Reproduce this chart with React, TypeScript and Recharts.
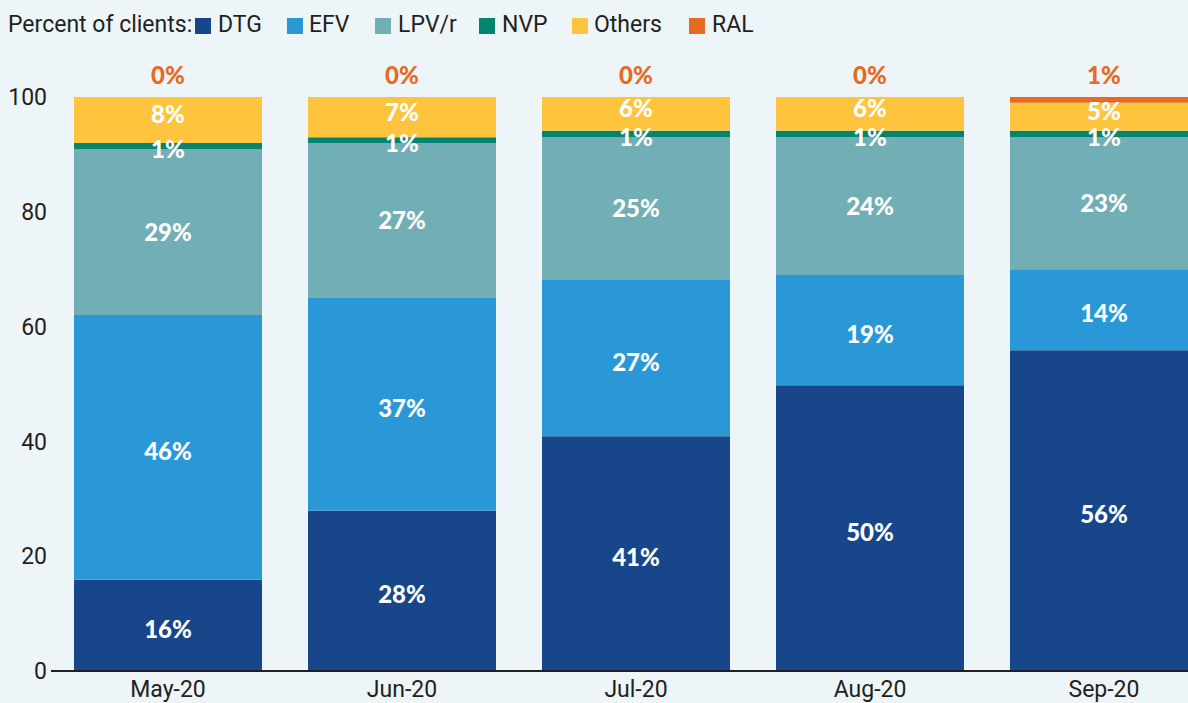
import { BarChart, Bar, XAxis, YAxis, LabelList } from 'recharts';

const months = ['May-20', 'Jun-20', 'Jul-20', 'Aug-20', 'Sep-20'];
const dtg = [15.9, 27.9, 40.9, 49.8, 55.9];
const efv = [46.1, 37.1, 27.2, 19.2, 14.1];
const lpvr = [28.9, 27.0, 24.9, 24.0, 23.0];
const nvp = [1.1, 1.0, 1.1, 1.1, 1.1];
const others = [8.0, 7.0, 5.9, 5.9, 4.9];
const ral = [0, 0, 0, 0, 1.0];
const yTicks = [0, 20, 40, 60, 80, 100];

const SERIES = [
  { key: 'DTG', color: '#17468A' },
  { key: 'EFV', color: '#2A98D6' },
  { key: 'LPV/r', color: '#72AEB5' },
  { key: 'NVP', color: '#00866F' },
  { key: 'Others', color: '#FEC43E' },
  { key: 'RAL', color: '#E66A22' },
];

// legend item x positions (square left, text left)
const LEGEND_X = [
  [195, 218],
  [287, 309],
  [375, 398],
  [479, 502],
  [572, 594],
  [689, 712],
];

// small vertical nudges for the in-bar labels
const LABEL_DY: Record<string, number> = {
  DTG: 4,
  EFV: 4,
  'LPV/r': 0,
  NVP: 3,
  Others: -5,
};

const data = months.map((m, i) => ({
  month: m,
  DTG: dtg[i],
  EFV: efv[i],
  'LPV/r': lpvr[i],
  NVP: nvp[i],
  Others: others[i],
  RAL: ral[i],
}));

const BG = '#EDF5F8';
const TEXT = '#231F20';
const AXIS_FONT = 'Roboto, "Noto Sans", sans-serif';
const LABEL_FONT = 'Lato, "Open Sans", sans-serif';
const LABEL_STYLE = { fontFamily: LABEL_FONT, fontWeight: 900, fontSize: 24 };

const pct = (v: unknown) => `${Math.round(Number(v) || 0)}%`;

function LegendRow() {
  return (
    <div style={{ position: 'absolute', left: 0, top: 0, width: 800, height: 50, fontFamily: AXIS_FONT, fontSize: 23, color: TEXT }}>
      <span style={{ position: 'absolute', left: 8, top: 11, lineHeight: '28px' }}>Percent of clients:</span>
      {SERIES.map((s, i) => (
        <span key={s.key}>
          <span style={{ position: 'absolute', left: LEGEND_X[i][0], top: 18, width: 16, height: 16, background: s.color }} />
          <span style={{ position: 'absolute', left: LEGEND_X[i][1], top: 11, lineHeight: '28px' }}>{s.key}</span>
        </span>
      ))}
    </div>
  );
}

// RAL label drawn above the top of the stack (works even when RAL is 0)
// eslint-disable-next-line @typescript-eslint/no-explicit-any
const renderRalLabel = (p: any) => {
  const vb = p.viewBox ?? p;
  const x = Number(vb.x) || 0;
  const y = Number(vb.y) || 0;
  const w = Number(vb.width) || 0;
  const h = Number(vb.height) || 0;
  const idx = Number(p.index) || 0;
  const pxPerUnit = others[idx] ? h / others[idx] : 0;
  const top = y - ral[idx] * pxPerUnit;
  return (
    <text
      key={`ral-${idx}`}
      x={x + w / 2}
      y={top - 13}
      textAnchor="middle"
      fill="#E66A22"
      style={LABEL_STYLE}
    >
      {pct(ral[idx])}
    </text>
  );
};

export default function App() {
  return (
    <div
      style={{
        position: 'absolute',
        left: 0,
        top: 0,
        width: 1188,
        height: 703,
        overflow: 'hidden',
        background: BG,
      }}
    >
      <LegendRow />
      <BarChart
        width={1221}
        height={703}
        data={data}
        margin={{ top: 97, right: 0, bottom: 0, left: 0 }}
        barCategoryGap={23}
      >
        <XAxis
          dataKey="month"
          height={32}
          tickLine={false}
          axisLine={{ stroke: TEXT, strokeWidth: 2 }}
          tick={{ fill: TEXT, fontSize: 23, fontFamily: AXIS_FONT }}
          tickMargin={4}
        />
        <YAxis
          width={51}
          domain={[0, 100]}
          ticks={yTicks}
          axisLine={false}
          tickLine={false}
          tickSize={2}
          tickMargin={2}
          tick={{ fill: TEXT, fontSize: 23, fontFamily: AXIS_FONT }}
        />
        {SERIES.map((s) => (
          <Bar key={s.key} dataKey={s.key} stackId="a" fill={s.color} isAnimationActive={false}>
            {s.key !== 'RAL' && (
              <LabelList
                dataKey={s.key}
                position="center"
                formatter={pct}
                fill="#FFFFFF"
                offset={0}
                dy={LABEL_DY[s.key]}
                style={LABEL_STYLE}
              />
            )}
            {s.key === 'Others' && <LabelList dataKey="RAL" content={renderRalLabel} />}
          </Bar>
        ))}
      </BarChart>
    </div>
  );
}
